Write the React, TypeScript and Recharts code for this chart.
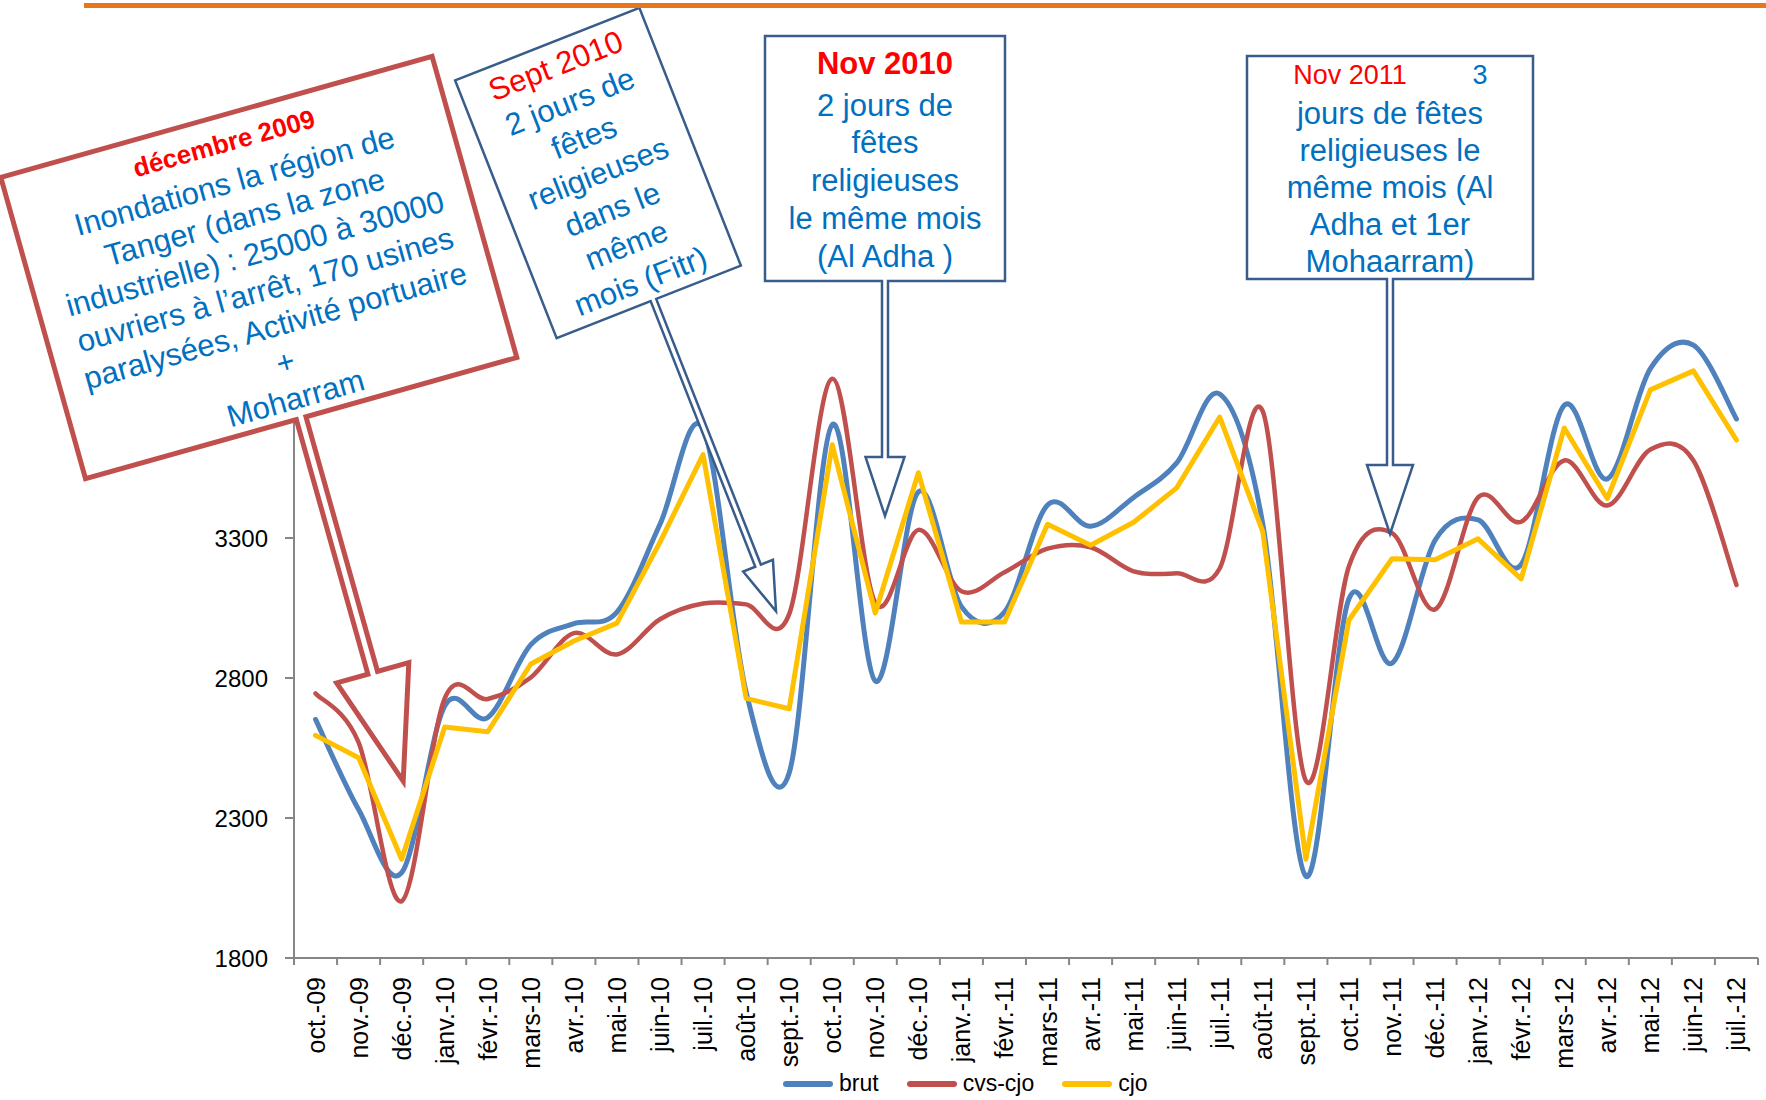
import { Legend, Line, LineChart, XAxis, YAxis } from 'recharts';

const months = [
  'oct.-09', 'nov.-09', 'déc.-09', 'janv.-10', 'févr.-10', 'mars-10', 'avr.-10', 'mai-10', 'juin-10',
  'juil.-10', 'août-10', 'sept.-10', 'oct.-10', 'nov.-10', 'déc.-10', 'janv.-11', 'févr.-11', 'mars-11',
  'avr.-11', 'mai-11', 'juin-11', 'juil.-11', 'août-11', 'sept.-11', 'oct.-11', 'nov.-11', 'déc.-11',
  'janv.-12', 'févr.-12', 'mars-12', 'avr.-12', 'mai-12', 'juin-12', 'juil.-12',
];

const brut = [
  2652, 2330, 2105, 2700, 2659, 2919, 2994, 3035, 3349, 3691, 2750, 2461, 3705, 2789, 3465, 3055, 3035,
  3418, 3342, 3445, 3568, 3814, 3349, 2092, 3083, 2853, 3292, 3365, 3205, 3774, 3511, 3905, 3989, 3725,
];

const cvsCjo = [
  2745, 2570, 2003, 2727, 2725, 2802, 2960, 2884, 3010, 3066, 3063, 3028, 3869, 3069, 3329, 3110, 3178,
  3262, 3267, 3181, 3174, 3192, 3752, 2433, 3199, 3318, 3045, 3445, 3358, 3577, 3416, 3616, 3577, 3132,
];

const cjo = [
  2595, 2515, 2153, 2625, 2608, 2850, 2932, 2996, 3285, 3598, 2727, 2690, 3633, 3032, 3533, 3000, 3000,
  3349, 3274, 3356, 3479, 3732, 3322, 2153, 3007, 3226, 3222, 3297, 3154, 3693, 3441, 3829, 3897, 3650,
];

const seriesOrder = ['brut', 'cvs-cjo', 'cjo'];
const yTicks = [1800, 2300, 2800, 3300, 3800, 4300];

const rows = months.map((month, i) => ({ month, brut: brut[i], 'cvs-cjo': cvsCjo[i], cjo: cjo[i] }));

const FONT = '"Liberation Sans", Arial, sans-serif';
const BLUE_TXT = '#0070C0';
const RED_TXT = '#FF0000';

// excel style smoothing (catmull-rom, passes through every point)
function excelSmooth(context: any) {
  let pts: number[][] = [];
  return {
    areaStart() {},
    areaEnd() {},
    lineStart() {
      pts = [];
    },
    point(x: number, y: number) {
      pts.push([+x, +y]);
    },
    lineEnd() {
      if (!pts.length) return;
      context.moveTo(pts[0][0], pts[0][1]);
      for (let i = 0; i < pts.length - 1; i++) {
        const p0 = pts[i - 1] || pts[i];
        const p1 = pts[i];
        const p2 = pts[i + 1];
        const p3 = pts[i + 2] || p2;
        context.bezierCurveTo(
          p1[0] + (p2[0] - p0[0]) / 6,
          p1[1] + (p2[1] - p0[1]) / 6,
          p2[0] - (p3[0] - p1[0]) / 6,
          p2[1] - (p3[1] - p1[1]) / 6,
          p2[0],
          p2[1],
        );
      }
    },
  };
}

const HALF_BAND = (1758 - 294) / months.length / 2;

function XTick(props: any) {
  const { x, y, payload, index } = props;
  const axisY = y - 8;
  return (
    <g>
      <line x1={x - HALF_BAND} x2={x - HALF_BAND} y1={axisY} y2={axisY + 7} stroke="#868686" strokeWidth={2} />
      {index === months.length - 1 && (
        <line x1={x + HALF_BAND} x2={x + HALF_BAND} y1={axisY} y2={axisY + 7} stroke="#868686" strokeWidth={2} />
      )}
      <text
        x={x}
        y={axisY + 19}
        transform={`rotate(-90 ${x} ${axisY + 19})`}
        textAnchor="end"
        dominantBaseline="central"
        fontSize={25}
        fontFamily={FONT}
        fill="#000"
      >
        {payload.value}
      </text>
    </g>
  );
}

function YTick(props: any) {
  const { x, y, payload } = props;
  return (
    <text x={x} y={y} textAnchor="end" dominantBaseline="central" fontSize={24} fontFamily={FONT} fill="#000">
      {payload.value}
    </text>
  );
}

function LegendContent(props: any) {
  const items = [...(props.payload || [])].sort(
    (a: any, b: any) => seriesOrder.indexOf(a.value) - seriesOrder.indexOf(b.value),
  );
  return (
    <div style={{ display: 'flex', alignItems: 'center', paddingLeft: 783, fontFamily: FONT, fontSize: 23 }}>
      {items.map((p: any) => (
        <div key={p.value} style={{ display: 'flex', alignItems: 'center', marginRight: 28 }}>
          <span style={{ width: 50, height: 6, borderRadius: 3, background: p.color, marginRight: 6 }} />
          <span>{p.value}</span>
        </div>
      ))}
    </div>
  );
}

interface CalloutProps {
  cx: number;
  cy: number;
  w: number;
  h: number;
  angle: number;
  ax: number;
  shaft: number;
  headY: number;
  head: number;
  tipY: number;
  stroke: string;
  sw: number;
  children?: any;
}

function Callout({ cx, cy, w, h, angle, ax, shaft, headY, head, tipY, stroke, sw, children }: CalloutProps) {
  const l = -w / 2;
  const r = w / 2;
  const t = -h / 2;
  const b = h / 2;
  const d =
    `M${l},${t} H${r} V${b} H${ax + shaft} V${headY} H${ax + head} L${ax},${tipY} ` +
    `L${ax - head},${headY} H${ax - shaft} V${b} H${l} Z`;
  return (
    <g transform={`translate(${cx},${cy}) rotate(${angle})`}>
      <path d={d} fill="#fff" stroke={stroke} strokeWidth={sw} />
      {children}
    </g>
  );
}

function Lines({ lines, y0, step, size, color }: { lines: string[]; y0: number; step: number; size: number; color: string }) {
  return (
    <>
      {lines.map((s, i) => (
        <text
          key={i}
          x={0}
          y={y0 + i * step}
          textAnchor="middle"
          dominantBaseline="central"
          fontSize={size}
          fontFamily={FONT}
          fill={color}
        >
          {s}
        </text>
      ))}
    </>
  );
}

function Annotations() {
  return (
    <svg width={1766} height={1100} style={{ position: 'absolute', left: 0, top: 0, pointerEvents: 'none' }}>
      <Callout cx={258.8} cy={267.5} w={448} h={313} angle={-15.7} ax={0} shaft={5} headY={421} head={37.5} tipY={533.6} stroke="#C0504D" sw={5}>
        <text x={0} y={-129} textAnchor="middle" dominantBaseline="central" fontSize={26} fontWeight="bold" fontFamily={FONT} fill={RED_TXT}>
          décembre 2009
        </text>
        <Lines
          lines={[
            'Inondations la région de',
            'Tanger (dans la zone',
            'industrielle) : 25000 à 30000',
            'ouvriers à l’arrêt, 170 usines',
            'paralysées, Activité portuaire',
            '+',
            'Moharram',
          ]}
          y0={-89.7}
          step={37.6}
          size={31}
          color={BLUE_TXT}
        />
      </Callout>

      <Callout cx={598} cy={173} w={198} h={277} angle={-21.5} ax={5} shaft={3} headY={424} head={16} tipY={473} stroke="#385D8A" sw={2.5}>
        <Lines lines={['Sept 2010']} y0={-115.3} step={38.6} size={31} color={RED_TXT} />
        <Lines
          lines={['2 jours de', 'fêtes', 'religieuses', 'dans le', 'même', 'mois (Fitr)']}
          y0={-76.7}
          step={38.6}
          size={31}
          color={BLUE_TXT}
        />
      </Callout>

      <Callout cx={885} cy={158.5} w={240} h={245} angle={0} ax={0} shaft={3} headY={298.5} head={19.5} tipY={357.5} stroke="#385D8A" sw={2.5}>
        <text x={0} y={-95.2} textAnchor="middle" dominantBaseline="central" fontSize={31} fontWeight="bold" fontFamily={FONT} fill={RED_TXT}>
          Nov 2010
        </text>
        <Lines
          lines={['2 jours de', 'fêtes', 'religieuses', 'le même mois', '(Al Adha )']}
          y0={-53.5}
          step={37.9}
          size={31}
          color={BLUE_TXT}
        />
      </Callout>

      <Callout cx={1390} cy={167.5} w={286} h={223} angle={0} ax={0} shaft={3} headY={297.5} head={23} tipY={366.5} stroke="#385D8A" sw={2.5}>
        <text x={-40} y={-92.5} textAnchor="middle" dominantBaseline="central" fontSize={27} fontFamily={FONT} fill={RED_TXT}>
          Nov 2011
        </text>
        <text x={90} y={-92.5} textAnchor="middle" dominantBaseline="central" fontSize={27} fontFamily={FONT} fill={BLUE_TXT}>
          3
        </text>
        <Lines
          lines={['jours de fêtes', 'religieuses le', 'même mois (Al', 'Adha et 1er', 'Mohaarram)']}
          y0={-54.2}
          step={37.1}
          size={31}
          color={BLUE_TXT}
        />
      </Callout>

      <rect x={84} y={3} width={1682} height={5} fill="#E8761B" />
    </svg>
  );
}

export default function App() {
  return (
    <div style={{ position: 'absolute', left: 0, top: 0, width: 1766, height: 1100, background: '#fff' }}>
      <LineChart width={1766} height={1100} data={rows} margin={{ top: 258, right: 8, left: 0, bottom: 0 }}>
        <XAxis
          dataKey="month"
          height={142}
          interval={0}
          padding={{ left: HALF_BAND, right: HALF_BAND }}
          tickLine={false}
          tick={<XTick />}
          axisLine={{ stroke: '#868686', strokeWidth: 2 }}
        />
        <YAxis
          width={294}
          domain={[1800, 4300]}
          ticks={yTicks}
          tickSize={9}
          tickMargin={17}
          tick={<YTick />}
          tickLine={{ stroke: '#868686', strokeWidth: 2 }}
          axisLine={{ stroke: '#868686', strokeWidth: 2 }}
        />
        <Legend
          layout="horizontal"
          verticalAlign="middle"
          align="center"
          content={<LegendContent />}
          wrapperStyle={{ top: 1070, left: 0, width: 1766, bottom: 'auto' }}
        />
        <Line type={excelSmooth as any} dataKey="brut" stroke="#4F81BD" strokeWidth={5} dot={false} isAnimationActive={false} strokeLinecap="round" />
        <Line type={excelSmooth as any} dataKey="cvs-cjo" stroke="#C0504D" strokeWidth={4.5} dot={false} isAnimationActive={false} strokeLinecap="round" />
        <Line type="linear" dataKey="cjo" stroke="#FFC000" strokeWidth={5} dot={false} isAnimationActive={false} strokeLinecap="round" strokeLinejoin="round" />
      </LineChart>
      <Annotations />
    </div>
  );
}
